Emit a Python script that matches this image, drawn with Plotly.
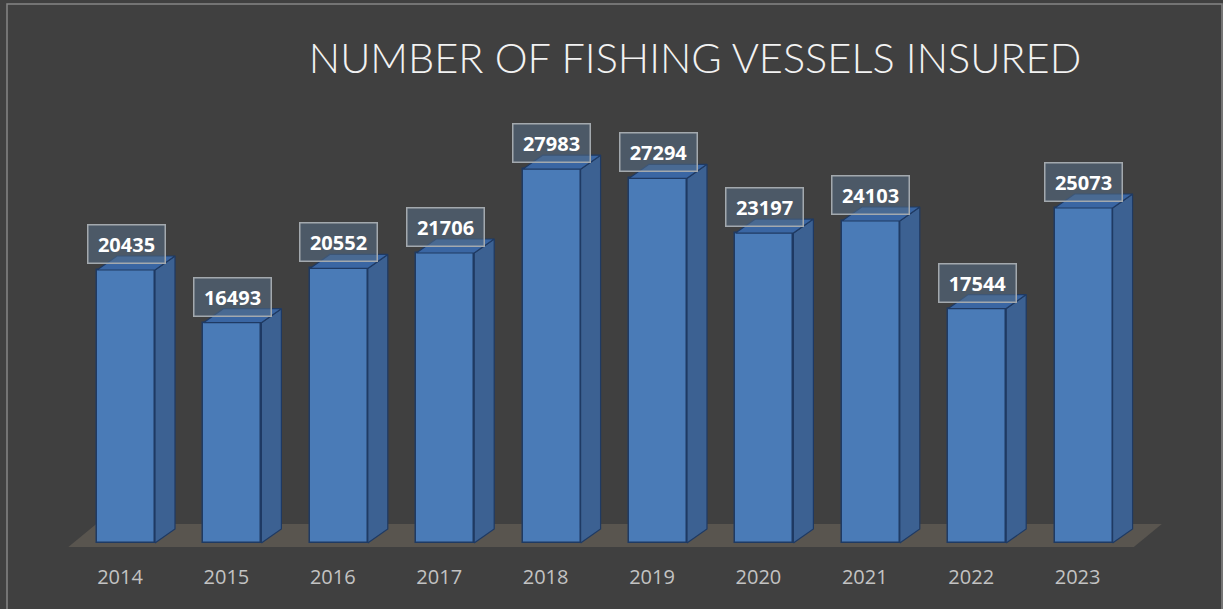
import plotly.graph_objects as go

# --- data -------------------------------------------------------------
years = ["2014", "2015", "2016", "2017", "2018", "2019", "2020", "2021", "2022", "2023"]
vessels = [20435, 16493, 20552, 21706, 27983, 27294, 23197, 24103, 17544, 25073]
title_text = "NUMBER OF FISHING VESSELS INSURED"

# --- layout geometry (pixels) ----------------------------------------
W, H = 1223, 609
PLOT_L, PLOT_R = 20, 1200          # plot area left/right edge
PLOT_T, PLOT_B = 90, 555           # plot area top/bottom edge
CAT_PX = 106.4                     # pixels between category centres
FIRST_PX = 126                     # pixel x of first category centre
ZERO_PX = 543                      # pixel y of the value 0
UNIT_PX = 0.01336                  # pixels per vessel

x_range = [(PLOT_L - FIRST_PX) / CAT_PX, (PLOT_R - FIRST_PX) / CAT_PX]
y_range = [-(PLOT_B - ZERO_PX) / UNIT_PX, (ZERO_PX - PLOT_T) / UNIT_PX]

def dx(px):
    return px / CAT_PX

def dy(px):
    return px / UNIT_PX

BAR_W = 0.545
DEPTH_X, DEPTH_Y = dx(20), dy(14)

FRONT = "#4a7bb7"
SIDE = "#3c6192"
TOP = "#3a66a3"
EDGE = "#1f3a63"
BG = "#404040"

xs = list(range(len(years)))

fig = go.Figure()

# front faces
fig.add_trace(go.Bar(
    x=xs, y=vessels, width=BAR_W,
    marker=dict(color=FRONT, line=dict(color=EDGE, width=1.5)),
    hoverinfo="x+y", showlegend=False,
))

# side and top faces for the 3-D look
for x, v in zip(xs, vessels):
    r = x + BAR_W / 2
    l = x - BAR_W / 2
    fig.add_trace(go.Scatter(
        x=[r, r + DEPTH_X, r + DEPTH_X, r, r],
        y=[0, DEPTH_Y, v + DEPTH_Y, v, 0],
        fill="toself", fillcolor=SIDE, mode="lines",
        line=dict(color=EDGE, width=1.2), hoverinfo="skip", showlegend=False,
    ))
    fig.add_trace(go.Scatter(
        x=[l, l + DEPTH_X, r + DEPTH_X, r, l],
        y=[v, v + DEPTH_Y, v + DEPTH_Y, v, v],
        fill="toself", fillcolor=TOP, mode="lines",
        line=dict(color=EDGE, width=1.2), hoverinfo="skip", showlegend=False,
    ))

# floor plane under the bars
f_l = -0.5 - dx(4.5)
f_r = len(years) - 1 + 0.5 - dx(3)
f_front = -dy(4)
f_back = dy(19)
f_dx = dx(28)
floor_path = (f"M {f_l},{f_front} L {f_r},{f_front} "
              f"L {f_r + f_dx},{f_back} L {f_l + f_dx},{f_back} Z")

shapes = [dict(type="path", path=floor_path, xref="x", yref="y",
               fillcolor="#59554f", line=dict(width=0), layer="below")]

# outer frame line
def paper_x(px):
    return (px - PLOT_L) / (PLOT_R - PLOT_L)

def paper_y(px):
    return (PLOT_B - px) / (PLOT_B - PLOT_T)

shapes.append(dict(type="rect", xref="paper", yref="paper",
                   x0=paper_x(7), x1=paper_x(1222), y0=paper_y(640), y1=paper_y(4),
                   line=dict(color="#858585", width=1.5), fillcolor="rgba(0,0,0,0)",
                   layer="below"))

# value labels
annotations = []
for x, v in zip(xs, vessels):
    annotations.append(dict(
        x=x, y=v, xref="x", yref="y", text=f"<b>{v}</b>", showarrow=False,
        yanchor="middle", xanchor="center", yshift=26,
        width=74, height=35,
        font=dict(family="Open Sans", size=20, color="#ffffff"),
        bgcolor="rgba(86,110,134,0.55)", bordercolor="#a3a9ae", borderwidth=1.5,
        borderpad=1,
    ))

fig.update_layout(
    width=W, height=H,
    paper_bgcolor=BG, plot_bgcolor=BG,
    margin=dict(l=PLOT_L, r=W - PLOT_R, t=PLOT_T, b=H - PLOT_B, autoexpand=False),
    title=dict(text=title_text, x=695 / W, xanchor="center", y=1 - 58 / H, yanchor="middle",
               font=dict(family="Lato", size=41.5, color="#f2f2f2", weight=300)),
    xaxis=dict(range=x_range, tickvals=xs, ticktext=years, showgrid=False,
               zeroline=False, showline=False, ticks="",
               tickfont=dict(family="Open Sans", size=20, color="#c3c3c3"),
               ticklabelshift=-6, ticklabelstandoff=8, fixedrange=True),
    yaxis=dict(range=y_range, showgrid=False, zeroline=False, showline=False,
               showticklabels=False, ticks="", fixedrange=True),
    shapes=shapes,
    annotations=annotations,
    bargap=0,
)

fig.write_html("out.html")
